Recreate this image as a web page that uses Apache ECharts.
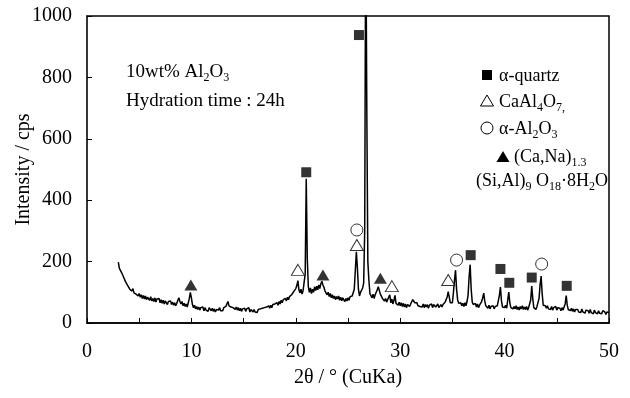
<!DOCTYPE html>
<html>
<head>
<meta charset="utf-8">
<script src="https://cdn.jsdelivr.net/npm/echarts@6/dist/echarts.min.js"></script>
<style>html,body{margin:0;padding:0;background:#fff;}#c{width:630px;height:398px;}</style>
</head>
<body>
<div id="c"></div>
<script>
// 2θ sampling of the XRD trace
var angleStart = 3.0;
var angleStep = 0.1;
// intensity (cps), one row per degree, from 3.0° to 50.0°
var intensity = [
  198,178,182,165,158,150,146,134,136,122, // 3
  124,110,116,104,112,98,104,94,100,88,    // 4
  96,84,92,80,90,78,88,76,84,82,           // 5
  74,86,72,80,70,82,68,78,72,80,           // 6
  66,76,64,74,62,72,68,60,70,64,           // 7
  72,60,68,58,66,56,64,74,82,70,           // 8
  62,70,56,64,54,62,52,66,80,100,          // 9
  82,60,50,58,46,54,44,52,42,50,           // 10
  44,52,40,50,42,48,38,50,44,40,           // 11
  48,38,46,36,44,38,42,50,40,46,           // 12
  40,50,44,54,48,70,56,62,52,58,           // 13
  50,56,44,52,42,50,40,48,38,46,           // 14
  42,48,38,46,40,50,36,44,40,36,           // 15
  44,36,42,34,44,38,46,40,48,42,           // 16
  50,44,52,46,56,48,58,50,60,54,           // 17
  62,56,66,58,70,62,74,66,76,70,           // 18
  80,72,84,76,86,80,92,88,102,108,         // 19
  112,122,138,108,98,110,94,106,112,160,   // 20
  470,210,118,100,114,96,110,100,118,106,  // 21
  120,108,124,112,128,136,124,116,104,110, // 22
  92,100,86,96,82,92,80,88,76,86,          // 23
  78,88,74,84,72,82,76,70,80,72,           // 24
  82,74,86,80,88,92,110,170,232,180,       // 25
  110,88,100,96,114,130,300,1350,700,200,  // 26
  140,96,100,82,94,80,92,88,108,118,       // 27
  112,94,96,80,86,72,80,68,76,70,          // 28
  92,66,78,62,74,90,64,70,58,68,           // 29
  56,66,54,64,52,62,50,60,64,54,           // 30
  62,68,76,72,66,60,66,56,62,54,           // 31
  60,52,62,50,60,52,60,48,58,52,           // 32
  62,50,60,64,52,58,62,50,56,60,           // 33
  52,60,58,68,72,85,102,84,66,72,          // 34
  66,100,140,172,110,76,64,58,66,56,       // 35
  64,54,66,56,70,90,150,190,110,68,        // 36
  60,54,64,52,62,50,58,62,70,82,           // 37
  97,72,56,62,48,58,46,54,50,56,           // 38
  46,54,48,56,60,90,117,72,52,58,          // 39
  50,58,48,75,101,66,50,56,46,54,          // 40
  46,56,44,52,42,54,46,56,44,52,           // 41
  44,54,42,50,56,75,120,78,50,56,          // 42
  44,54,58,80,125,153,95,58,52,56,         // 43
  48,56,46,52,44,54,42,50,46,54,           // 44
  42,50,44,48,40,50,42,52,62,89,           // 45
  58,44,50,40,48,38,46,36,44,38,           // 46
  44,36,42,34,46,36,40,32,42,36,           // 47
  40,32,44,34,40,30,42,34,38,30,           // 48
  40,32,38,30,40,34,36,28,36,32,           // 49
  34                                       // 50
];

// phase identification markers (2θ, intensity where the symbol sits)
var quartzX  = [21.0, 26.05, 36.75, 39.6, 40.45, 42.6, 45.95];
var quartzY  = [491, 938, 221, 176, 131, 148, 121];
var caAlX    = [20.2, 25.85, 29.2, 34.6];
var caAlY    = [173, 254, 120, 140];
var aluminaX = [25.85, 35.4, 43.55];
var aluminaY = [303, 205, 192];
var zeoliteX = [9.95, 22.6, 28.1];
var zeoliteY = [124, 156, 146];

// axis ticks
var xTicks = [0, 10, 20, 30, 40, 50];
var yTicks = [0, 200, 400, 600, 800, 1000];

function pairs(xs, ys) { return xs.map(function (x, i) { return [x, ys[i]]; }); }
var trace = intensity.map(function (v, i) { return [+(angleStart + i * angleStep).toFixed(2), v]; });

var FONT = '"Liberation Serif", "Times New Roman", serif';
function makeRich(n, s) {
  return {
    n: { fontFamily: FONT, fontSize: n, lineHeight: n + 5, color: '#000' },
    s: { fontFamily: FONT, fontSize: s, lineHeight: s, verticalAlign: 'bottom', color: '#000' }
  };
}
var richNote = makeRich(19, 12);
var richLeg = makeRich(18, 12);
function txt(x, y, s, rich) {
  return { type: 'text', x: x, y: y, z: 100,
    style: { text: s, rich: rich, align: 'left', verticalAlign: 'middle' } };
}

var chart = echarts.init(document.getElementById('c'), null, { renderer: 'canvas' });
chart.setOption({
  animation: false,
  backgroundColor: '#fff',
  grid: { left: 87, right: 21, top: 16, bottom: 75, containLabel: false, outerBoundsMode: 'none',
    show: true, borderColor: '#000', borderWidth: 1.5, backgroundColor: 'transparent' },
  xAxis: {
    type: 'value', min: 0, max: 50, interval: 5,
    name: '2θ / ° (CuKa)', nameLocation: 'middle', nameGap: 45, nameMoveOverlap: false,
    nameTextStyle: { fontFamily: FONT, fontSize: 20, color: '#000' },
    axisLine: { lineStyle: { color: '#000', width: 1.5 } },
    axisTick: { inside: true, length: 5, lineStyle: { color: '#000', width: 1 } },
    axisLabel: { margin: 19, fontFamily: FONT, fontSize: 20, color: '#000',
      formatter: function (v) { return xTicks.indexOf(v) >= 0 ? String(v) : ''; } },
    splitLine: { show: false }
  },
  yAxis: {
    type: 'value', min: 0, max: 1000, interval: 200,
    name: 'Intensity / cps', nameLocation: 'middle', nameGap: 53, nameMoveOverlap: false,
    nameTextStyle: { fontFamily: FONT, fontSize: 20, color: '#000' },
    axisLine: { show: true, lineStyle: { color: '#333', width: 1.5 } },
    axisTick: { show: true, inside: true, length: 5, lineStyle: { color: '#000', width: 1 } },
    axisLabel: { margin: 15, fontFamily: FONT, fontSize: 20, color: '#000',
      formatter: function (v) { return yTicks.indexOf(v) >= 0 ? String(v) : ''; } },
    splitLine: { show: false }
  },
  series: [
    { type: 'line', data: trace, showSymbol: false, symbol: 'none', clip: true,
      lineStyle: { color: '#000', width: 1.5 }, z: 2 },
    { type: 'scatter', data: pairs(quartzX, quartzY), symbol: 'rect', symbolSize: [10, 10],
      itemStyle: { color: '#000' }, z: 5 },
    { type: 'scatter', data: pairs(caAlX, caAlY), symbol: 'triangle', symbolSize: [13, 11],
      itemStyle: { color: '#fff', borderColor: '#000', borderWidth: 1 }, z: 5 },
    { type: 'scatter', data: pairs(aluminaX, aluminaY), symbol: 'circle', symbolSize: 12,
      itemStyle: { color: '#fff', borderColor: '#000', borderWidth: 1 }, z: 5 },
    { type: 'scatter', data: pairs(zeoliteX, zeoliteY), symbol: 'triangle', symbolSize: [13, 11],
      itemStyle: { color: '#000' }, z: 5 }
  ],
  graphic: [
    txt(126, 72, '{n|10wt% Al}{s|2}{n|O}{s|3}', richNote),
    txt(126, 101, '{n|Hydration time : 24h}', richNote),
    // legend
    { type: 'rect', shape: { x: 482, y: 70, width: 10, height: 10 }, style: { fill: '#000' }, z: 100 },
    txt(499, 76, '{n|α-quartz}', richLeg),
    { type: 'polygon', shape: { points: [[487, 95], [480.5, 106], [493.5, 106]] }, style: { fill: '#fff', stroke: '#000', lineWidth: 1 }, z: 100 },
    txt(499, 102, '{n|CaAl}{s|4}{n|O}{s|7,}', richLeg),
    { type: 'circle', shape: { cx: 487, cy: 128, r: 6 }, style: { fill: '#fff', stroke: '#000', lineWidth: 1 }, z: 100 },
    txt(499, 129, '{n|α-Al}{s|2}{n|O}{s|3}', richLeg),
    { type: 'polygon', shape: { points: [[503, 151], [496.5, 162], [509.5, 162]] }, style: { fill: '#000' }, z: 100 },
    txt(514, 157, '{n|(Ca,Na)}{s|1.3}', richLeg),
    txt(476, 181, '{n|(Si,Al)}{s|9}{n| O}{s|18}{n|·8H}{s|2}{n|O}', richLeg)
  ]
});
</script>
</body>
</html>
